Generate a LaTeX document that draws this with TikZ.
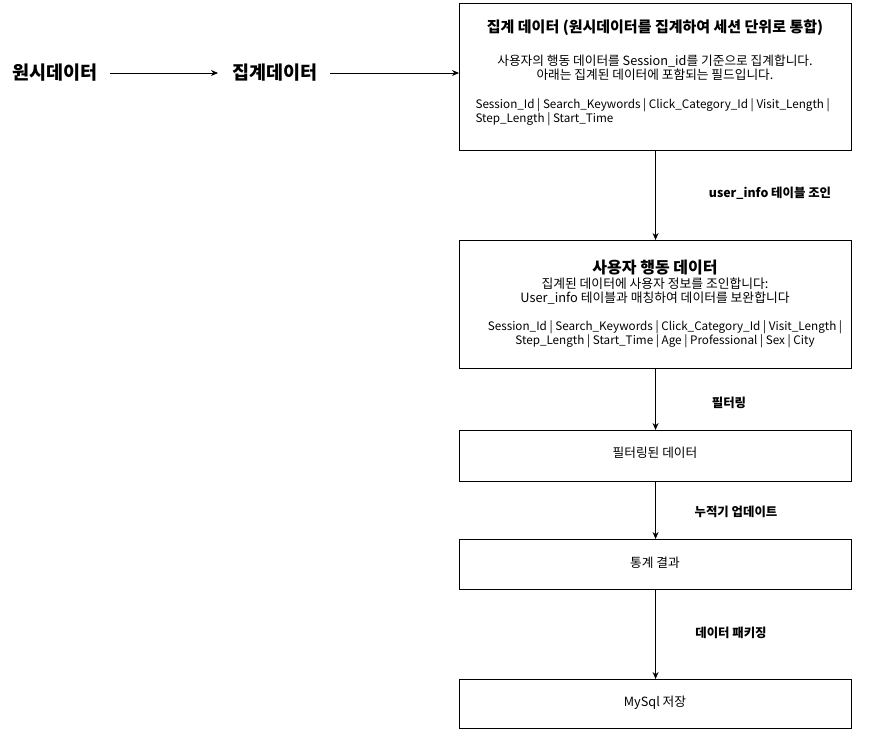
\documentclass[tikz,border=0pt]{standalone}
\usepackage{fontspec}
\setmainfont{Noto Sans CJK KR}
\usetikzlibrary{arrows.meta,positioning}
\begin{document}
\begin{tikzpicture}[x=1pt,y=-1pt,
  box/.style={draw=black,line width=1.1pt,fill=white},
  flow/.style={draw=black,line width=0.9pt,-{Stealth[length=7pt,width=6pt]}},
  big/.style={font=\fontsize{18.5}{22}\selectfont\bfseries},
  lbl/.style={font=\fontsize{12.4}{15}\selectfont\bfseries},
  body/.style={font=\fontsize{12.7}{14.5}\selectfont},
  fields/.style={font=\fontsize{11.7}{14}\selectfont}]
\useasboundingbox (0,0) rectangle (870,731);
% boxes
\node[box,minimum width=392pt,minimum height=147pt,anchor=north west] (b1) at (459,3) {};
\node[box,minimum width=392pt,minimum height=128pt,anchor=north west] (b2) at (459,240) {};
\node[box,minimum width=392pt,minimum height=51pt,anchor=north west] (b3) at (459,430) {};
\node[box,minimum width=392pt,minimum height=50pt,anchor=north west] (b4) at (459,539) {};
\node[box,minimum width=392pt,minimum height=49pt,anchor=north west] (b5) at (459,679) {};
% box 1 texts
\node[font=\fontsize{15}{18}\selectfont\bfseries] (t1) at (655,28) {집계 데이터 (원시데이터를 집계하여 세션 단위로 통합)};
\node[body,align=center] (t1b) at (655,67.5) {사용자의 행동 데이터를 Session\_id를 기준으로 집계합니다.\\아래는 집계된 데이터에 포함되는 필드입니다.};
\node[fields,align=left,anchor=west] (t1c) at (472,112) {Session\_Id | Search\_Keywords | Click\_Category\_Id | Visit\_Length |\\Step\_Length | Start\_Time};
% box 2 texts
\node[font=\fontsize{16}{18}\selectfont\bfseries] (t2) at (655,268) {사용자 행동 데이터};
\node[body,align=center,font=\fontsize{12.8}{14}\selectfont] (t2b) at (655,291) {집계된 데이터에 사용자 정보를 조인합니다:\\User\_info 테이블과 매칭하여 데이터를 보완합니다};
\node[fields,align=center] (t2c) at (665,334) {Session\_Id | Search\_Keywords | Click\_Category\_Id | Visit\_Length |\\Step\_Length | Start\_Time | Age | Professional | Sex | City};
% other box texts
\node[body] (t3) at (655,453) {필터링된 데이터};
\node[body] (t4) at (655,563) {통계 결과};
\node[body] (t5) at (655,703) {MySql 저장};
% left texts
\node[big,anchor=west] (raw) at (9,73) {원시데이터};
\node[big,anchor=west] (agg) at (229,73) {집계데이터};
\coordinate (a1s) at (110,73);
\coordinate (a1e) at (218,73);
\coordinate (a2s) at (330,73);
\coordinate (a2e) at (459,73);
\draw[flow] (a1s) -- (a1e);
\draw[flow] (a2s) -- (a2e);
% vertical arrows
\draw[flow] (b1.south) -- (b2.north);
\draw[flow] (b2.south) -- (b3.north);
\draw[flow] (b3.south) -- (b4.north);
\draw[flow] (b4.south) -- (b5.north);
% arrow labels
\node[lbl] (l1) at (770,193) {user\_info 테이블 조인};
\node[lbl] (l2) at (729,403) {필터링};
\node[lbl] (l3) at (736,512) {누적기 업데이트};
\node[lbl] (l4) at (731,633) {데이터 패키징};
\end{tikzpicture}
\end{document}
